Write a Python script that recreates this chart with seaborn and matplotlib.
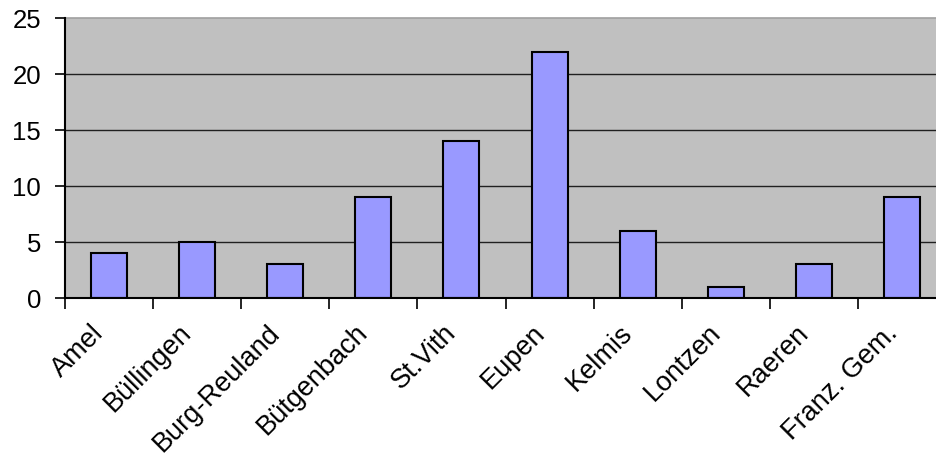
import matplotlib
matplotlib.use("Agg")
import matplotlib.pyplot as plt
import matplotlib.transforms as mtransforms
import seaborn as sns
import pandas as pd

# Gemeinden and their counts
gemeinden = ["Amel", "Büllingen", "Burg-Reuland", "Bütgenbach", "St.Vith",
             "Eupen", "Kelmis", "Lontzen", "Raeren", "Franz. Gem."]
anzahl = [4, 5, 3, 9, 14, 22, 6, 1, 3, 9]
y_ticks = [0, 5, 10, 15, 20, 25]

sns.set_theme(style="white")
plt.rcParams["font.family"] = ["Liberation Sans", "DejaVu Sans"]
plt.rcParams["text.color"] = "black"
plt.rcParams["xtick.color"] = "black"
plt.rcParams["ytick.color"] = "black"

df = pd.DataFrame({"Gemeinde": gemeinden, "Anzahl": anzahl})

W, H = 936, 456
fig = plt.figure(figsize=(W / 100, H / 100), dpi=100)
ax = fig.add_axes([64.5 / W, 157 / H, 882 / W, 280 / H])
ax.set_facecolor("#C0C0C0")

sns.barplot(data=df, x="Gemeinde", y="Anzahl", color="#9999FF", saturation=1,
            width=0.41, edgecolor="black", linewidth=1.5, ax=ax, zorder=3)

ax.set_xlim(-0.5, len(gemeinden) - 0.5)
ax.set_ylim(0, 25)
ax.set_yticks(y_ticks)
ax.set_yticklabels([str(v) for v in y_ticks], fontsize=18.5)

# horizontal gridlines
for v in y_ticks[1:-1]:
    ax.axhline(v, color="#202020", linewidth=1.0, zorder=1)

ax.set_xlabel("")
ax.set_ylabel("")

# labels at the category centres, tick marks at the boundaries
ax.set_xticks(range(len(gemeinden)))
ax.set_xticklabels(gemeinden, rotation=45, ha="right", va="center",
                   rotation_mode="anchor", fontsize=19.5)
ax.tick_params(axis="x", which="major", length=0, pad=21.5, labelcolor="black")
shift = mtransforms.ScaledTranslation(-9 / 100, 0, fig.dpi_scale_trans)
for lbl in ax.get_xticklabels():
    lbl.set_transform(lbl.get_transform() + shift)
ax.set_xticks([i - 0.5 for i in range(len(gemeinden) + 1)], minor=True)
ax.tick_params(axis="x", which="minor", length=8, width=1.2, color="black",
               direction="out", bottom=True)
ax.tick_params(axis="y", which="major", length=7.5, width=1.2, color="black",
               direction="out", left=True, pad=9.5, labelcolor="black")

for side in ["left", "bottom"]:
    ax.spines[side].set_color("black")
    ax.spines[side].set_linewidth(1.5)
    ax.spines[side].set_zorder(4)
ax.spines["top"].set_color("#A0A0A0")
ax.spines["top"].set_linewidth(1.2)
ax.spines["right"].set_color("#A0A0A0")

fig.savefig("out.png", dpi=100)
